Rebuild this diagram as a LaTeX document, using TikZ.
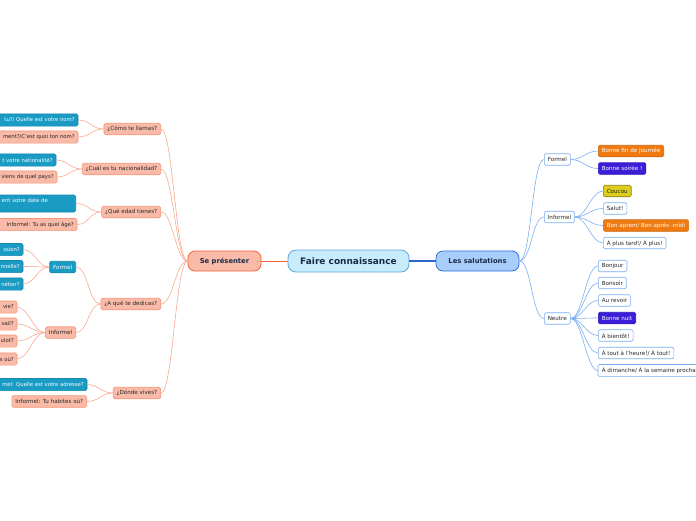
\documentclass[tikz,border=0pt]{standalone}
\usepackage{fontspec}
\setmainfont{DejaVu Sans}
\usetikzlibrary{backgrounds}
\definecolor{salfill}{HTML}{F9BBA7}
\definecolor{saldraw}{HTML}{F3957C}
\definecolor{salline}{HTML}{F8A990}
\definecolor{salmain}{HTML}{F0643A}
\definecolor{tealfill}{HTML}{1A9BC4}
\definecolor{tealdraw}{HTML}{1389B0}
\definecolor{cenfill}{HTML}{C8ECFB}
\definecolor{cendraw}{HTML}{5AA8DD}
\definecolor{salufill}{HTML}{A9CDFB}
\definecolor{saludraw}{HTML}{2B6FD8}
\definecolor{blueline}{HTML}{7AAEF2}
\definecolor{bluemain}{HTML}{2A66D0}
\definecolor{orangefill}{HTML}{F07A10}
\definecolor{purplefill}{HTML}{3A1ED8}
\definecolor{yellowfill}{HTML}{DCCD1E}
\definecolor{yellowdraw}{HTML}{8A7F10}
\definecolor{txt}{HTML}{262626}
\definecolor{navy}{HTML}{1A2A4A}
\tikzset{
  base/.style={draw, rounded corners=1.5pt, font=\fontsize{5.6}{6.6}\selectfont, inner xsep=3.5pt, inner ysep=0pt, minimum height=11.5pt, line width=0.6pt, text=txt},
  salbox/.style={base, fill=salfill, draw=saldraw},
  tealbox/.style={base, fill=tealfill, draw=tealdraw, text=white},
  saltxt/.style={base, draw=none, text=txt, font=\fontsize{5.3}{6.3}\selectfont, inner xsep=3pt},
  tealtxt/.style={base, draw=none, text=white, font=\fontsize{5.3}{6.3}\selectfont, inner xsep=3pt},
  whitebox/.style={base, fill=white, draw=blueline},
  whitetxt/.style={base, draw=none},
  orangebox/.style={base, fill=orangefill, draw=orangefill!85!black, text=white},
  purplebox/.style={base, fill=purplefill, draw=purplefill!85!black, text=white},
  yellowbox/.style={base, fill=yellowfill, draw=yellowdraw},
  lc/.style={to path={.. controls ([xshift=-12pt]\tikztostart) and ([xshift=12pt]\tikztotarget) .. (\tikztotarget)}},
  rc/.style={to path={.. controls ([xshift=12pt]\tikztostart) and ([xshift=-12pt]\tikztotarget) .. (\tikztotarget)}},
  lline/.style={draw=salline, line width=0.6pt},
  rline/.style={draw=blueline, line width=0.6pt}
}
% a leaf whose box runs past the left edge of the picture
\newcommand\mycutleaf[5]{%
  \node[#1txt, anchor=east] (#2) at (#3,#4) {#5};
  \begin{pgfonlayer}{background}
    \path[#1box] ([xshift=-90pt]#2.south west) rectangle (#2.north east);
  \end{pgfonlayer}}
\begin{document}
\begin{tikzpicture}[x=1pt,y=-1pt]
\useasboundingbox (0,0) rectangle (696,520);
% centre
\node[draw=cendraw, fill=cenfill, line width=0.8pt, rounded corners=8pt, minimum width=121pt, minimum height=22pt, font=\fontsize{9}{11}\selectfont\bfseries, text=navy] (root) at (348.5,261) {Faire connaissance};
\node[draw=salmain, fill=salfill, line width=0.8pt, rounded corners=7pt, minimum width=73pt, minimum height=20pt, font=\fontsize{6.8}{8}\selectfont\bfseries, text=navy] (sp) at (224.5,261) {Se présenter};
\node[draw=saludraw, fill=salufill, line width=0.8pt, rounded corners=7pt, minimum width=83pt, minimum height=20pt, font=\fontsize{6.8}{8}\selectfont\bfseries, text=navy] (ls) at (477.5,261) {Les salutations};
\draw[salmain, line width=1pt] (root.west) -- (sp.east);
\draw[bluemain, line width=1.2pt] (root.east) -- (ls.west);

% left level 2
\node[salbox, anchor=east] (como) at (161,129) {¿Cómo te llamas?};
\node[salbox, anchor=east] (cual) at (161,169) {¿Cuál es tu nacionalidad?};
\node[salbox, anchor=east] (que) at (161,212) {¿Qué edad tienes?};
\node[salbox, anchor=east] (aque) at (161,304) {¿A qué te dedicas?};
\node[salbox, anchor=east] (donde) at (161,393) {¿Dónde vives?};
\foreach \n in {como,cual,que,aque,donde} \draw[lline] (sp.west) to[lc] (\n.east);

% left level 3
\mycutleaf{teal}{c1}{78}{120}{tu?/ Quelle est votre nom?}
\mycutleaf{sal}{c2}{78}{137}{ment?/C'est quoi ton nom?}
\mycutleaf{teal}{n1}{56}{160}{t votre nationalité?}
\mycutleaf{sal}{n2}{57}{177}{viens de quel pays?}
\node[tealbox, anchor=east, minimum width=106pt, minimum height=17pt] (q1) at (76,203.5) {};
\node[font=\fontsize{5.3}{6.3}\selectfont, text=white, anchor=east, inner sep=0pt] (q1t) at (48,200.5) {ent votre date de};
\mycutleaf{sal}{q2}{77}{224.5}{Informel: Tu as quel âge?}
\node[tealbox, anchor=east] (formel) at (76,267) {Formel};
\node[salbox, anchor=east] (informel) at (76,332.5) {Informel};
\mycutleaf{teal}{f1}{23}{249.5}{ssion?}
\mycutleaf{teal}{f2}{23}{266.5}{nnelle?}
\mycutleaf{teal}{f3}{23}{284}{nétier?}
\mycutleaf{sal}{i1}{17}{307}{vie?}
\mycutleaf{sal}{i2}{17}{324}{vail?}
\mycutleaf{sal}{i3}{17}{341}{ulot?}
\mycutleaf{sal}{i4}{17}{359}{s où?}
\mycutleaf{teal}{d1}{87}{384.5}{mel: Quelle est votre adresse?}
\node[salbox, anchor=east] (d2) at (87,401.5) {Informel: Tu habites où?};
\foreach \n in {c1,c2} \draw[lline] (como.west) to[lc] (\n.east);
\foreach \n in {n1,n2} \draw[lline] (cual.west) to[lc] (\n.east);
\foreach \n in {q1,q2} \draw[lline] (que.west) to[lc] (\n.east);
\foreach \n in {formel,informel} \draw[lline] (aque.west) to[lc] (\n.east);
\foreach \n in {f1,f2,f3} \draw[lline] (formel.west) to[lc] (\n.east);
\foreach \n in {i1,i2,i3,i4} \draw[lline] (informel.west) to[lc] (\n.east);
\foreach \n in {d1,d2} \draw[lline] (donde.west) to[lc] (\n.east);

% right level 2
\node[whitebox, anchor=west] (rf) at (544,159.5) {Formel};
\node[whitebox, anchor=west] (ri) at (544,217) {Informel};
\node[whitebox, anchor=west] (rn) at (544,318.5) {Neutre};
\foreach \n in {rf,ri,rn} \draw[rline] (ls.east) to[rc] (\n.west);

% right level 3
\node[orangebox, anchor=west] (bfj) at (598,151) {Bonne fin de journée};
\node[purplebox, anchor=west] (bs) at (598,168.5) {Bonne soirée !};
\node[yellowbox, anchor=west] (cc) at (603,191) {Coucou};
\node[whitebox, anchor=west] (sa) at (603,208.5) {Salut!};
\node[orangebox, anchor=west] (ba) at (603,225.5) {Bon aprem/ Bon après -midi};
\node[whitebox, anchor=west] (apt) at (603,243) {À plus tard!/ À plus!};
\node[whitebox, anchor=west] (bj) at (598,266) {Bonjour};
\node[whitebox, anchor=west] (bso) at (598,283) {Bonsoir};
\node[whitebox, anchor=west] (ar) at (598,300.5) {Au revoir};
\node[purplebox, anchor=west] (bn) at (598,318) {Bonne nuit};
\node[whitebox, anchor=west] (ab) at (598,335.5) {À bientôt!};
\node[whitebox, anchor=west] (at) at (598,353) {À tout à l'heure!/ À tout!};
\node[whitetxt, anchor=west] (ad) at (598,370.5) {À dimanche/ À la semaine procha};
\begin{pgfonlayer}{background}
  \path[whitebox] (ad.south west) rectangle ([xshift=40pt]ad.north east);
\end{pgfonlayer}
\foreach \n in {bfj,bs} \draw[rline] (rf.east) to[rc] (\n.west);
\foreach \n in {cc,sa,ba,apt} \draw[rline] (ri.east) to[rc] (\n.west);
\foreach \n in {bj,bso,ar,bn,ab,at,ad} \draw[rline] (rn.east) to[rc] (\n.west);
\end{tikzpicture}
\end{document}
